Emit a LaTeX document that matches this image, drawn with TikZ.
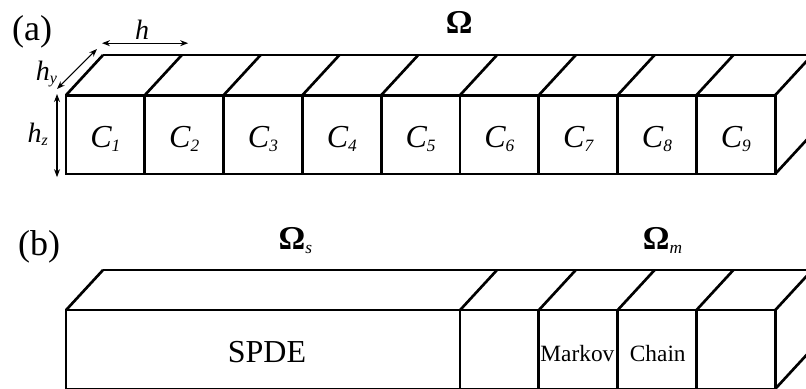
\documentclass[tikz,border=0pt]{standalone}
\usepackage{fontspec}
\setmainfont{Liberation Serif}
\usetikzlibrary{arrows.meta}
\newcommand{\cellidx}[2]{\raisebox{-0.25ex}{\fontsize{#2}{#2}\selectfont\mdseries\itshape #1}}
\begin{document}
\begin{tikzpicture}[x=59.1pt,y=59.1pt,
  wall/.style={line width=2pt, line join=miter},
  dim/.style={line width=0.8pt, {Stealth[length=6pt,width=4.5pt]}-{Stealth[length=6pt,width=4.5pt]}},
  panel/.style={font=\fontsize{27}{27}\selectfont},
  dom/.style={anchor=base, font=\fontsize{25}{25}\selectfont\bfseries},
  celltext/.style={anchor=base, font=\fontsize{24}{24}\selectfont\itshape},
  dimtext/.style={font=\fontsize{21}{21}\selectfont\itshape},
  model/.style={anchor=base, font=\fontsize{24}{24}\selectfont}]
\useasboundingbox (-0.8376,-2.728) rectangle (9.391,2.208);
\clip (-0.8376,-2.728) rectangle (9.391,2.208);
% (a) nine cubic cells C_1 ... C_9 of the domain
\foreach \i in {1,...,9} {
  \draw[wall] (\i-1,0) rectangle (\i,1);
  \draw[wall] (\i-1,1) -- ++(0.47,0.51);
  \node[celltext] (c\i) at (\i-0.5,0.33) {C\cellidx{\i}{13}};
}
\draw[wall] (9,1) -- ++(0.47,0.51);
\draw[wall] (9,0) -- ++(0.47,0.51);
\draw[wall] (0.47,1.51) -- (9.6,1.51);
\node[panel] (pa) at (-0.43,1.80) {(a)};
\node[dom] (om) at (4.99,1.78) {Ω};
% cell sizes
\coordinate (hw) at (0.457,1.66);
\coordinate (he) at (1.55,1.66);
\coordinate (hyl) at (-0.114,1.079);
\coordinate (hyu) at (0.393,1.586);
\coordinate (hzu) at (-0.114,1.015);
\coordinate (hzl) at (-0.114,-0.04);
\draw[dim] (hw) -- (he);
\draw[dim] (hyl) -- (hyu);
\draw[dim] (hzu) -- (hzl);
\node[dimtext] (h) at (0.965,1.83) {h};
\node[dimtext] (hy) at (-0.25,1.27) {h\cellidx{y}{12}};
\node[dimtext] (hz) at (-0.36,0.50) {h\cellidx{z}{12}};
% (b) SPDE block followed by the Markov chain cells
\begin{scope}[shift={(0,-2.728)}]
\draw[wall] (0,0) rectangle (5,1);
\foreach \i in {6,...,9}
  \draw[wall] (\i-1,0) rectangle (\i,1);
\foreach \x in {0,5,6,7,8,9}
  \draw[wall] (\x,1) -- ++(0.47,0.51);
\draw[wall] (9,0) -- ++(0.47,0.51);
\draw[wall] (0.47,1.51) -- (9.6,1.51);
\node[panel] (pb) at (-0.34,1.80) {(b)};
\node[dom] (oms) at (2.91,1.764) {Ω\cellidx{s}{13}};
\node[dom] (omm) at (7.57,1.764) {Ω\cellidx{m}{13}};
\node[model] (spde) at (2.55,0.333) {SPDE};
\node[model, font=\fontsize{17.5}{17.5}\selectfont] (markov) at (6.49,0.346) {Markov};
\node[model, font=\fontsize{17.5}{17.5}\selectfont] (chain) at (7.51,0.346) {Chain};
\end{scope}
\end{tikzpicture}
\end{document}
